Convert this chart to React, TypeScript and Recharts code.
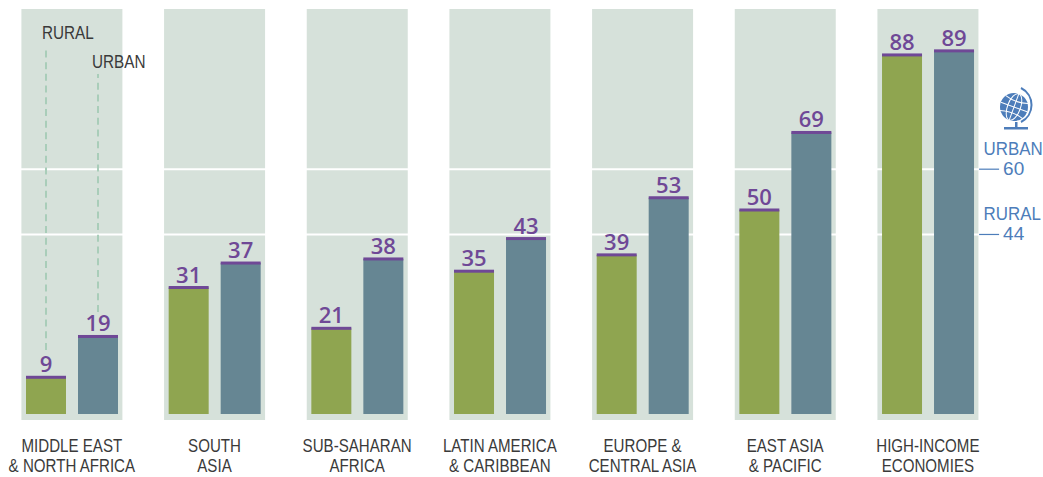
import { BarChart, Bar, XAxis, YAxis, ReferenceLine, LabelList, ErrorBar } from 'recharts'

const regions = [
  'MIDDLE EAST\n& NORTH AFRICA',
  'SOUTH\nASIA',
  'SUB-SAHARAN\nAFRICA',
  'LATIN AMERICA\n& CARIBBEAN',
  'EUROPE &\nCENTRAL ASIA',
  'EAST ASIA\n& PACIFIC',
  'HIGH-INCOME\nECONOMIES',
]
const rural = [9, 31, 21, 35, 39, 50, 88]
const urban = [19, 37, 38, 43, 53, 69, 89]
// leader lines only on the first group: [below, above] the bar value
const ruralLeader = [[-6.7, 81], null, null, null, null, null, null]
const urbanLeader = [[-6, 64.3], null, null, null, null, null, null]
const yDomain = [-1.47, 99.26]
const worldAverages = [
  { label: 'URBAN', value: 60 },
  { label: 'RURAL', value: 44 },
]

const PURPLE = '#6f4896'
const BLUE = '#4d7dba'
const FONT = '"Liberation Sans", sans-serif'

const chartData = regions.map((region, i) => ({
  region,
  rural: rural[i],
  urban: urban[i],
  ruralLeader: ruralLeader[i],
  urbanLeader: urbanLeader[i],
  panel: yDomain,
}))

// no narrow face is installed, so squeeze the glyphs horizontally
const NarrowText = ({ x, y, squeeze = 0.85, anchor = 'start', size = 18, fill = '#3a3a3a', children }: any) => (
  <text transform={`translate(${x} ${y}) scale(${squeeze} 1)`} textAnchor={anchor} fontFamily={FONT} fontSize={size} fill={fill}>
    {children}
  </text>
)

// bar with the purple cap on top
const CappedBar = ({ x, y, width, height, fill }: any) => (
  <g>
    <rect x={x} y={y} width={width} height={height} fill={fill} />
    <rect x={x} y={y - 1.5} width={width} height={3} fill={PURPLE} />
  </g>
)

const RegionTick = ({ x, y, payload }: any) => (
  <g>
    {payload.value.split('\n').map((line: string, i: number) => (
      <NarrowText key={i} x={x - 0.5} y={y + 26 + 20 * i} squeeze={0.84} anchor="middle">{line}</NarrowText>
    ))}
  </g>
)

// white rule across the panels, blue tick and world figure to the right
const AverageLine = ({ x1, x2, y1, item }: any) => (
  <g>
    <line x1={x1} x2={x2} y1={y1} y2={y1} stroke="#ffffff" strokeWidth={2} />
    <line x1={x2 - 20} x2={x2} y1={y1} y2={y1} stroke={BLUE} strokeWidth={1.2} />
    <NarrowText x={x2 - 15.5} y={y1 - 14} squeeze={0.94} fill={BLUE}>{item.label}</NarrowText>
    <NarrowText x={x2 + 4} y={y1 + 6} squeeze={1} size={19} fill={BLUE}>{item.value}</NarrowText>
  </g>
)

const Globe = () => (
  <g transform="translate(1000 88)" fill={BLUE}>
    <circle cx={14} cy={19} r={14} />
    <g stroke="#ffffff" strokeWidth={1} fill="none" transform="rotate(20 14 19)">
      <ellipse cx={14} cy={19} rx={6.5} ry={14} />
      <line x1={14} x2={14} y1={5} y2={33} />
      <path d="M2 11 Q14 15 26 11 M0 19 H28 M2 27 Q14 23 26 27" />
    </g>
    <path d="M21 0 A19 19 0 0 1 21 34" fill="none" stroke={BLUE} strokeWidth={2} />
    <rect x={15} y={34} width={2.5} height={6} />
    <rect x={4} y={39} width={24} height={2.5} />
  </g>
)

export default function App() {
  return (
    <div style={{ position: 'absolute', left: 0, top: 0, width: 1043, height: 477 }}>
      <BarChart
        width={1043}
        height={477}
        data={chartData}
        margin={{ top: 9, right: 43.9, bottom: 0, left: 0.4 }}
        barGap={12}
      >
        <XAxis xAxisId="panel" dataKey="region" hide />
        <XAxis dataKey="region" axisLine={false} tickLine={false} interval={0} height={57} tickMargin={0} padding={{ left: 0.6, right: -0.6 }} tick={<RegionTick />} />
        <YAxis hide domain={yDomain} allowDataOverflow />
        <Bar xAxisId="panel" dataKey="panel" barSize={101} fill="#d6e1da" zIndex={100} isAnimationActive={false} />
        {worldAverages.map(item => (
          <ReferenceLine key={item.label} y={item.value} zIndex={150} shape={(p: any) => <AverageLine {...p} item={item} />} />
        ))}
        <Bar dataKey="rural" barSize={40} fill="#8fa550" shape={<CappedBar />} isAnimationActive={false}>
          <ErrorBar dataKey="ruralLeader" direction="y" width={0} stroke="#a9cdb9" strokeWidth={2} strokeDasharray="7 4.7" isAnimationActive={false} />
          <LabelList dataKey="rural" position="top" offset={5} fill={PURPLE} fontFamily="Open Sans" fontWeight={600} fontSize={22} />
        </Bar>
        <Bar dataKey="urban" barSize={40} fill="#668693" shape={<CappedBar />} isAnimationActive={false}>
          <ErrorBar dataKey="urbanLeader" direction="y" width={0} stroke="#a9cdb9" strokeWidth={2} strokeDasharray="7 4.7" isAnimationActive={false} />
          <LabelList dataKey="urban" position="top" offset={5} fill={PURPLE} fontFamily="Open Sans" fontWeight={600} fontSize={22} />
        </Bar>
      </BarChart>
      {/* annotations sit above every chart layer */}
      <svg width={1043} height={477} style={{ position: 'absolute', left: 0, top: 0 }}>
        <NarrowText x={42} y={39}>RURAL</NarrowText>
        <NarrowText x={92} y={68}>URBAN</NarrowText>
        <Globe />
      </svg>
    </div>
  )
}
